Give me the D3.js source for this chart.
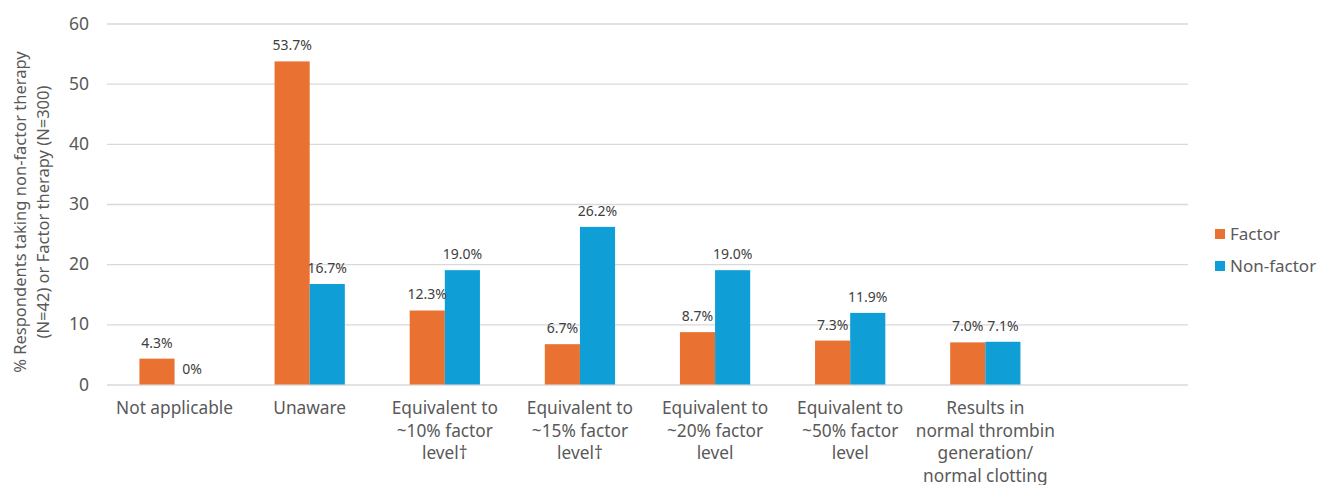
<!DOCTYPE html>
<html>
<head>
<meta charset="utf-8">
<script src="https://cdn.jsdelivr.net/npm/d3@7"></script>
<style>
  html, body { margin: 0; padding: 0; background: #fff; }
  svg { display: block; font-family: "Noto Sans", "Open Sans", sans-serif; }
</style>
</head>
<body>
<svg id="chart" width="1317" height="485"></svg>
<script>
// Perceived hemostatic efficacy, by therapy type
const categories = [
  ["Not applicable"],
  ["Unaware"],
  ["Equivalent to", "~10% factor", "level\u2020"],
  ["Equivalent to", "~15% factor", "level\u2020"],
  ["Equivalent to", "~20% factor", "level"],
  ["Equivalent to", "~50% factor", "level"],
  ["Results in", "normal thrombin", "generation/", "normal clotting"]
];
const factorValues    = [4.3, 53.7, 12.3, 6.7, 8.7, 7.3, 7.0];
const nonFactorValues = [0, 16.7, 19.0, 26.2, 19.0, 11.9, 7.1];
const valueLabels = {
  factor:    ["4.3%", "53.7%", "12.3%", "6.7%", "8.7%", "7.3%", "7.0%"],
  nonFactor: ["0%", "16.7%", "19.0%", "26.2%", "19.0%", "11.9%", "7.1%"]
};
const seriesNames = ["Factor", "Non-factor"];
const yTicks = [0, 10, 20, 30, 40, 50, 60];
const yTitle = ["% Respondents taking non-factor therapy", "(N=42) or Factor therapy (N=300)"];

const colors = { "Factor": "#E97132", "Non-factor": "#0F9ED5" };

const svg = d3.select("#chart");
const plot = { left: 107, right: 1188, top: 23.5, bottom: 384.5 };

// one spare slot at the end keeps the plot wider than the data
const slots = d3.range(categories.length + 1);
const x = d3.scaleBand().domain(slots).range([plot.left, plot.right]).padding(0);
const xSub = d3.scaleBand().domain(seriesNames).range([0, x.bandwidth() * 0.52]);
const groupOffset = (x.bandwidth() - xSub.range()[1]) / 2;
const y = d3.scaleLinear().domain([0, 60]).range([plot.bottom, plot.top]);

// gridlines
const yAxis = d3.axisLeft(y).tickValues(yTicks).tickSize(-(plot.right - plot.left)).tickPadding(18);
const gy = svg.append("g").attr("transform", `translate(${plot.left},0)`).call(yAxis);
gy.select(".domain").remove();
gy.selectAll(".tick line").attr("stroke", "#d9d9d9").attr("stroke-width", 1.3);
gy.selectAll(".tick text").attr("fill", "#595959").attr("font-size", 17.5)
  .attr("font-family", "\"Noto Sans\", sans-serif");

// bars
const rows = categories.map((c, i) => ({
  i,
  vals: [
    { s: "Factor", v: factorValues[i], label: valueLabels.factor[i] },
    { s: "Non-factor", v: nonFactorValues[i], label: valueLabels.nonFactor[i] }
  ]
}));

const groups = svg.append("g").selectAll("g").data(rows).join("g")
  .attr("transform", d => `translate(${x(d.i) + groupOffset},0)`);

groups.selectAll("rect").data(d => d.vals).join("rect")
  .attr("x", d => xSub(d.s))
  .attr("width", xSub.bandwidth())
  .attr("y", d => y(d.v))
  .attr("height", d => y(0) - y(d.v))
  .attr("fill", d => colors[d.s]);

groups.selectAll("text").data(d => d.vals).join("text")
  .attr("x", d => xSub(d.s) + xSub.bandwidth() / 2)
  .attr("y", d => y(d.v) - 11)
  .attr("text-anchor", "middle")
  .attr("font-size", 14)
  .attr("fill", "#404040")
  .text(d => d.label);

// category labels
const catG = svg.append("g").selectAll("text").data(categories).join("text")
  .attr("x", (d, i) => x(i) + x.bandwidth() / 2)
  .attr("y", 414)
  .attr("text-anchor", "middle")
  .attr("font-size", 17.3)
  .attr("fill", "#595959");
catG.selectAll("tspan").data(d => d).join("tspan")
  .attr("x", function() { return d3.select(this.parentNode).attr("x"); })
  .attr("dy", (d, j) => j === 0 ? 0 : 22.7)
  .text(d => d);

// y-axis title
svg.append("text")
  .attr("transform", "translate(26,212) rotate(-90)")
  .attr("text-anchor", "middle")
  .attr("font-size", 16.5)
  .attr("fill", "#595959")
  .selectAll("tspan").data(yTitle).join("tspan")
  .attr("x", 0)
  .attr("dy", (d, j) => j === 0 ? 0 : 23)
  .text(d => d);

// legend
const legend = svg.append("g").attr("transform", "translate(1215,234)");
const li = legend.selectAll("g").data(seriesNames).join("g")
  .attr("transform", (d, i) => `translate(0,${i * 32})`);
li.append("rect").attr("x", 0).attr("y", -5).attr("width", 10).attr("height", 10)
  .attr("fill", d => colors[d]);
li.append("text").attr("x", 15).attr("y", 0).attr("dy", "0.35em")
  .attr("font-size", 17).attr("fill", "#595959").text(d => d);
</script>
</body>
</html>
